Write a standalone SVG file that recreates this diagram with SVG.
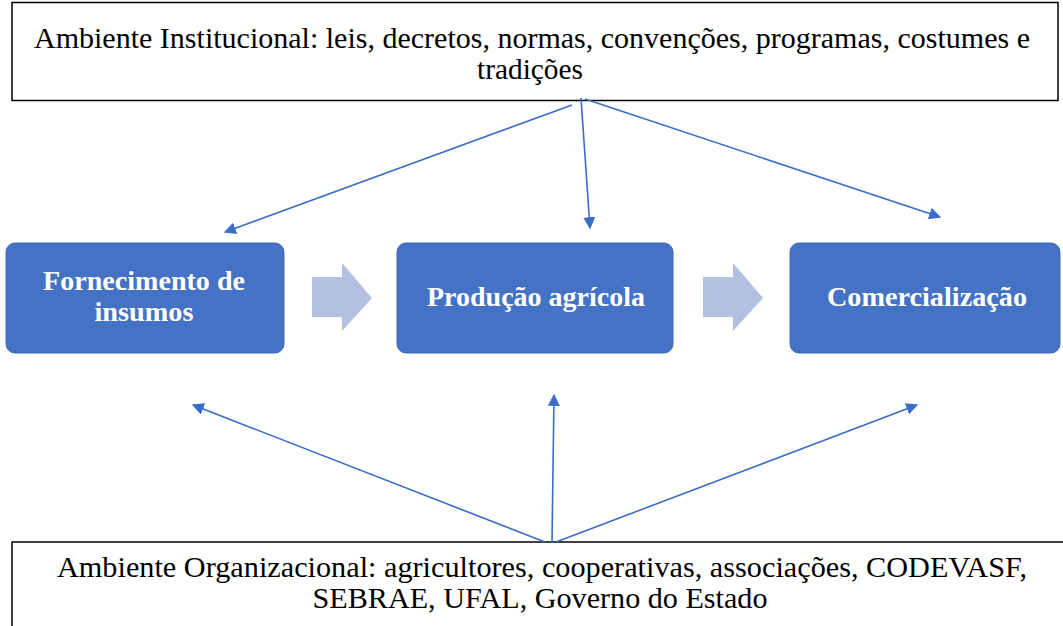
<svg xmlns="http://www.w3.org/2000/svg" width="1063" height="626" viewBox="0 0 1063 626">
<defs>
<style>
.env{fill:#fff;stroke:#000;stroke-width:1.5}
.envt{font-family:"Liberation Serif","Times New Roman",serif;font-size:30px;fill:#000;text-anchor:middle}
.proc{fill:#4472C4;stroke:#3F6AB8;stroke-width:1}
.proct{font-family:"Liberation Serif","Times New Roman",serif;font-size:28px;font-weight:bold;fill:#fff;text-anchor:middle}
.blk{fill:#B3C0E0}
.con{stroke:#3B6CC8;stroke-width:1.6;fill:none;marker-end:url(#ah)}
</style>
<marker id="ah" markerWidth="12" markerHeight="12" viewBox="0 0 10 10" refX="9" refY="5" orient="auto" markerUnits="userSpaceOnUse">
<path d="M0,0 L10,5 L0,10 Z" fill="#3B6CC8"/>
</marker>
</defs>
<rect width="1063" height="626" fill="#fff"/>
<g id="institucional">
<rect class="env" x="12" y="2.5" width="1046" height="98"/>
<text class="envt" x="532" y="48" textLength="996" lengthAdjust="spacingAndGlyphs">Ambiente Institucional: leis, decretos, normas, convenções, programas, costumes e</text>
<text class="envt" x="530" y="79" textLength="106" lengthAdjust="spacingAndGlyphs">tradições</text>
</g>
<g id="organizacional">
<rect class="env" x="12" y="542" width="1060" height="100"/>
<text class="envt" x="542" y="577" textLength="970" lengthAdjust="spacingAndGlyphs">Ambiente Organizacional: agricultores, cooperativas, associações, CODEVASF,</text>
<text class="envt" x="540" y="608" textLength="455" lengthAdjust="spacingAndGlyphs">SEBRAE, UFAL, Governo do Estado</text>
</g>
<g id="fornecimento">
<rect class="proc" x="6" y="243" width="278" height="110" rx="9"/>
<text class="proct" x="144" y="290" textLength="202" lengthAdjust="spacingAndGlyphs">Fornecimento de</text>
<text class="proct" x="144" y="321" textLength="99" lengthAdjust="spacingAndGlyphs">insumos</text>
</g>
<g id="producao">
<rect class="proc" x="397" y="243" width="276" height="110" rx="9"/>
<text class="proct" x="536" y="306" textLength="218" lengthAdjust="spacingAndGlyphs">Produção agrícola</text>
</g>
<g id="comercializacao">
<rect class="proc" x="790" y="243" width="270" height="110" rx="9"/>
<text class="proct" x="927" y="306" textLength="200" lengthAdjust="spacingAndGlyphs">Comercialização</text>
</g>
<g id="fluxo">
<path class="blk" d="M312,277 H342 V263 L372,298 L342,331 V317 H312 Z"/>
<path class="blk" d="M703,277 H733 V263 L763,298 L733,331 V317 H703 Z"/>
</g>
<g id="connectors">
<line class="con" x1="572" y1="105" x2="225" y2="232"/>
<line class="con" x1="581" y1="98" x2="590" y2="228"/>
<line class="con" x1="585" y1="99" x2="940" y2="217"/>
<line class="con" x1="545" y1="542" x2="193" y2="405"/>
<line class="con" x1="552" y1="543" x2="554" y2="395"/>
<line class="con" x1="556" y1="542" x2="917" y2="405"/>
</g>
</svg>
